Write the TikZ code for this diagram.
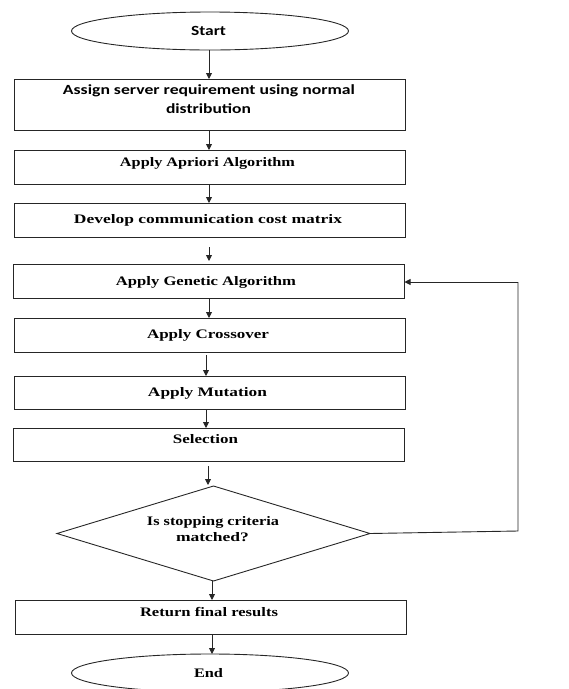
\documentclass[tikz,border=0pt]{standalone}
\usepackage{fontspec}
\usepackage{graphicx}
\setmainfont{Liberation Serif}
\newfontfamily\calfont{Carlito}
\usetikzlibrary{shapes.geometric,arrows.meta}
\newcommand{\fw}[2]{\resizebox{#1pt}{\height}{#2}}
\begin{document}
\begin{tikzpicture}[x=1pt,y=-1pt,
  every node/.style={inner sep=0pt,outer sep=0pt},
  boxst/.style={draw=black!85,line width=0.9pt,rectangle,minimum width=391pt},
  ovalst/.style={draw=black!85,line width=0.9pt,ellipse,minimum width=277pt,minimum height=38pt},
  decst/.style={draw=black!85,line width=0.9pt,diamond,minimum width=313pt,minimum height=95pt},
  serf/.style={font=\fontsize{13}{15}\selectfont\bfseries},
  sanf/.style={font=\fontsize{14}{16}\calfont\bfseries},
  arr/.style={draw=black!85,line width=0.9pt,-{Triangle[length=6pt,width=6pt]}},
  lin/.style={draw=black!85,line width=0.9pt}]
\useasboundingbox (0,0) rectangle (569,689);
% shapes
\node[ovalst] (start) at (210,31) {};
\node[boxst,minimum height=51pt] (b1) at (209.5,104.5) {};
\node[boxst,minimum height=34pt] (b2) at (209.5,167) {};
\node[boxst,minimum height=34pt] (b3) at (209.5,220) {};
\node[boxst,minimum height=34pt] (b4) at (209,281) {};
\node[boxst,minimum height=34pt] (b5) at (209.5,335) {};
\node[boxst,minimum height=33pt] (b6) at (210,392.5) {};
\node[boxst,minimum height=33pt] (b7) at (208.5,444.5) {};
\node[decst] (dia) at (213.5,533.5) {};
\node[boxst,minimum height=34pt] (b8) at (210.5,617) {};
\node[ovalst] (end) at (210,673) {};
% texts
\node[sanf] (t0) at (208.5,31) {\fw{35}{Start}};
\node[sanf] (t1a) at (209,91) {\fw{292}{Assign server requirement using normal}};
\node[sanf] (t1b) at (208.5,109) {\fw{85}{distribution}};
\node[serf] (t2) at (207.5,163) {\fw{175}{Apply Apriori Algorithm}};
\node[serf] (t3) at (208,220) {\fw{268}{Develop communication cost matrix}};
\node[serf] (t4) at (206,282) {\fw{180}{Apply Genetic Algorithm}};
\node[serf] (t5) at (208,335) {\fw{122}{Apply Crossover}};
\node[serf] (t6) at (207.5,393) {\fw{119}{Apply Mutation}};
\node[serf] (t7) at (205.5,439) {\fw{65}{Selection}};
\node[serf] (t8a) at (213,522) {\fw{132}{Is stopping criteria}};
\node[serf] (t8b) at (212.5,537) {\fw{73}{matched?}};
\node[serf] (t9) at (209,612) {\fw{138}{Return final results}};
\node[serf] (t10) at (208.5,673) {\fw{29}{End}};
% connectors
\coordinate (x0) at (209,0);
\draw[arr] (start.south -| x0) -- (b1.north -| x0);
\draw[arr] (b1.south -| x0) -- (b2.north -| x0);
\draw[arr] (b2.south -| x0) -- (b3.north -| x0);
\draw[arr] ([yshift=-10pt]b3.south -| x0) -- ([yshift=3pt]b4.north -| x0);
\draw[arr] (b4.south -| x0) -- (b5.north -| x0);
\coordinate (x1) at (206,0);
\draw[arr] ([yshift=-3pt]b5.south -| x1) -- (b6.north -| x1);
\draw[arr] (b6.south -| x1) -- (b7.north -| x1);
\coordinate (x2) at (208,0);
\draw[arr] ([yshift=-5pt]b7.south -| x2) -- ([yshift=1pt]dia.north -| x2);
\coordinate (x3) at (212,0);
\draw[arr] (dia.south -| x3) -- (b8.north -| x3);
\draw[arr] (b8.south -| x3) -- (end.north -| x3);
\coordinate (c1) at (518,531);
\coordinate (c2) at (518,282);
\draw[lin] (dia.east) -- (c1) -- (c2);
\draw[arr] (c2) -- (b4.east |- c2);
\end{tikzpicture}
\end{document}
